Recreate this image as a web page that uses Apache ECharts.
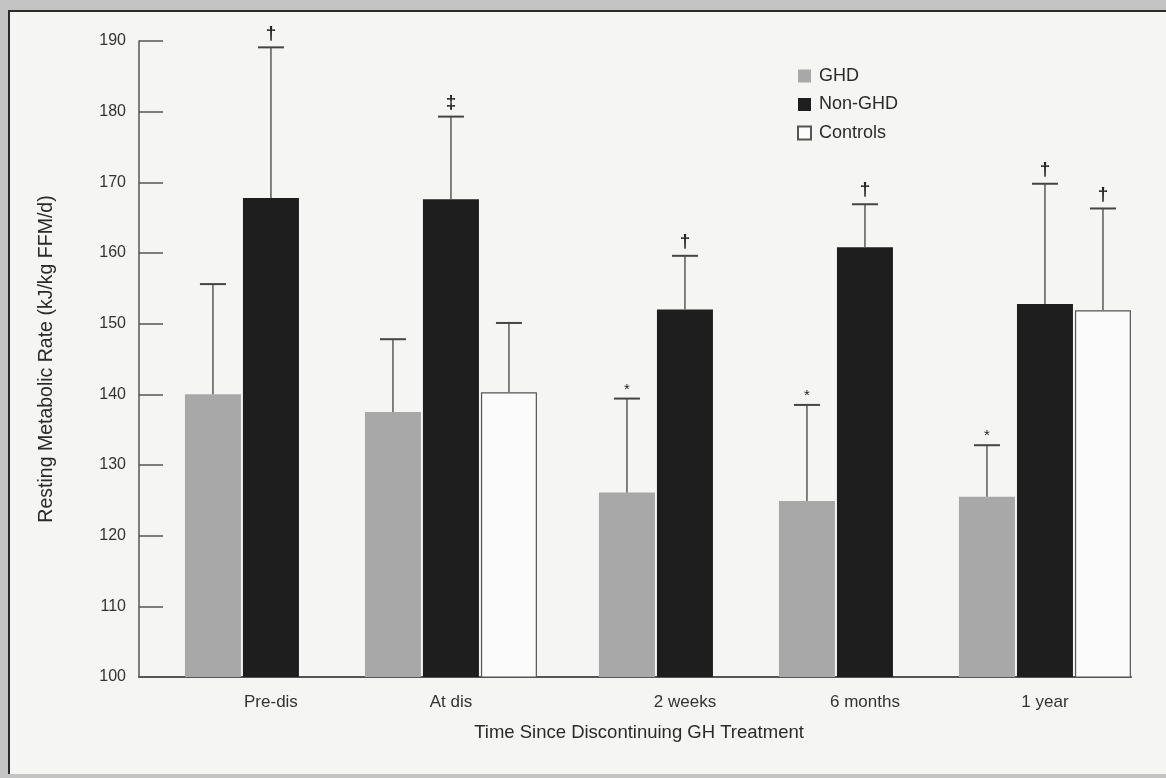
<!DOCTYPE html>
<html>
<head>
<meta charset="utf-8">
<script src="https://cdn.jsdelivr.net/npm/echarts@6/dist/echarts.min.js"></script>
<style>
html,body{margin:0;padding:0;width:1166px;height:778px;overflow:hidden;background:#c4c4c4;}
#panel{position:absolute;left:8px;top:10px;width:1158px;height:764px;background:#f5f5f3;border-top:2px solid #2b2b2b;border-left:2px solid #2b2b2b;box-sizing:border-box;}
#chart{position:absolute;left:0;top:0;width:1166px;height:778px;}
</style>
</head>
<body>
<div id="panel"></div>
<div id="chart"></div>
<script>
// ---- data ----
const categories = ['Pre-dis', 'At dis', '2 weeks', '6 months', '1 year'];
const ghd        = [140.0, 137.5, 126.1, 124.9, 125.5];
const ghdSD      = [15.6, 10.3, 13.3, 13.6, 7.3];
const nonGhd     = [167.8, 167.6, 152.0, 160.8, 152.8];
const nonGhdSD   = [21.3, 11.7, 7.6, 6.1, 17.0];
const controls   = [null, 140.3, null, null, 151.9];
const controlsSD = [null, 9.8, null, null, 14.4];
const ghdSig      = ['', '', '*', '*', '*'];
const nonGhdSig   = ['\u2020', '\u2021', '\u2020', '\u2020', '\u2020'];
const controlsSig = ['', '', '', '', '\u2020'];
const yTicks = [100, 110, 120, 130, 140, 150, 160, 170, 180, 190];

// ---- layout (not data) ----
const FONT = "'Liberation Sans', Arial, sans-serif";
const BREAK_AFTER = 1;      // extra space between "At dis" and "2 weeks"
const BREAK_GAP = 0.3;
const AXIS_PAD_LEFT = 0.733;
const AXIS_PAD_RIGHT = 0.478;
const BAR_W = 56, BAR_GAP = 2;
const pos = categories.map((c, i) => i + (i > BREAK_AFTER ? BREAK_GAP : 0));

function barData(vals) {
  return vals.map((v, i) => v == null ? null : [pos[i], v]).filter(d => d);
}
function errData(vals, sds) {
  return vals.map((v, i) => v == null ? null : [pos[i], v, sds[i], i]).filter(d => d);
}
function errSeries(name, vals, sds, sig, slot) {
  const offset = slot * (BAR_W + BAR_GAP);
  return {
    name: name, type: 'custom', z: 5, silent: true,
    data: errData(vals, sds),
    encode: { x: 0, y: 1 },
    renderItem: function (params, api) {
      const x = api.value(0), m = api.value(1), sd = api.value(2), idx = api.value(3);
      const b = api.coord([x, m]);
      const t = api.coord([x, m + sd]);
      const cx = b[0] + offset;
      const s = sig[idx];
      const children = [
        { type: 'line', shape: { x1: cx, y1: b[1], x2: cx, y2: t[1] }, style: { stroke: '#5a5a5a', lineWidth: 1.5 } },
        { type: 'line', shape: { x1: cx - 13, y1: t[1], x2: cx + 13, y2: t[1] }, style: { stroke: '#444', lineWidth: 2 } }
      ];
      if (s) {
        const isStar = s === '*';
        children.push({
          type: 'text',
          style: {
            text: s, x: cx, y: t[1] - (isStar ? 9 : 14),
            fill: '#222', align: 'center', verticalAlign: 'middle',
            font: (isStar ? '15px ' : 'bold 19px ') + FONT
          }
        });
      }
      return { type: 'group', children: children };
    }
  };
}

const chart = echarts.init(document.getElementById('chart'), null, { renderer: 'canvas' });
chart.setOption({
  backgroundColor: 'transparent',
  animation: false,
  textStyle: { fontFamily: FONT },
  grid: { left: 139, top: 41, width: 992, height: 636, containLabel: false, outerBoundsMode: 'none' },
  legend: {
    orient: 'vertical', left: 792, top: 62, itemWidth: 13, itemHeight: 13, itemGap: 10.5,
    icon: 'rect', selectedMode: false,
    data: ['GHD', 'Non-GHD', 'Controls'],
    textStyle: { fontSize: 18, color: '#2a2a2a', fontFamily: FONT, lineHeight: 18, padding: [0, 0, 0, 3] }
  },
  xAxis: {
    type: 'value',
    min: pos[0] - AXIS_PAD_LEFT,
    max: pos[pos.length - 1] + AXIS_PAD_RIGHT,
    splitLine: { show: false },
    axisTick: { show: false },
    axisLine: { show: true, onZero: false, lineStyle: { color: '#555', width: 2 } },
    axisLabel: {
      customValues: pos,
      margin: 17, fontSize: 17, color: '#333', fontFamily: FONT,
      formatter: function (v) {
        for (let i = 0; i < pos.length; i++) if (Math.abs(pos[i] - v) < 1e-6) return categories[i];
        return '';
      }
    },
    name: 'Time Since Discontinuing GH Treatment',
    nameLocation: 'middle', nameGap: 46,
    nameTextStyle: { fontSize: 18.5, color: '#2a2a2a', fontFamily: FONT, padding: [0, 0, 0, 8] }
  },
  yAxis: {
    type: 'value', min: yTicks[0], max: yTicks[yTicks.length - 1], interval: yTicks[1] - yTicks[0],
    splitLine: { show: false },
    axisLine: { show: true, onZero: false, lineStyle: { color: '#555', width: 1.5 } },
    axisTick: { show: true, inside: true, length: 24, lineStyle: { color: '#555', width: 1.5 } },
    axisLabel: { margin: 13, fontSize: 16, color: '#333', fontFamily: FONT },
    name: 'Resting Metabolic Rate (kJ/kg FFM/d)',
    nameLocation: 'middle', nameGap: 82, nameRotate: 90,
    nameTextStyle: { fontSize: 19.5, color: '#2a2a2a', fontFamily: FONT }
  },
  series: [
    { name: 'GHD', type: 'bar', barWidth: BAR_W, data: barData(ghd),
      itemStyle: { color: '#a8a8a8' } },
    { name: 'Non-GHD', type: 'bar', barWidth: BAR_W, data: barData(nonGhd),
      itemStyle: { color: '#1e1e1e' } },
    { name: 'Controls', type: 'bar', barWidth: BAR_W, barGap: (BAR_GAP / BAR_W * 100) + '%', data: barData(controls),
      itemStyle: { color: '#fbfbfb', borderColor: '#555', borderWidth: 1.2 } },
    errSeries('GHD SD', ghd, ghdSD, ghdSig, -1),
    errSeries('Non-GHD SD', nonGhd, nonGhdSD, nonGhdSig, 0),
    errSeries('Controls SD', controls, controlsSD, controlsSig, 1)
  ]
});
</script>
</body>
</html>
